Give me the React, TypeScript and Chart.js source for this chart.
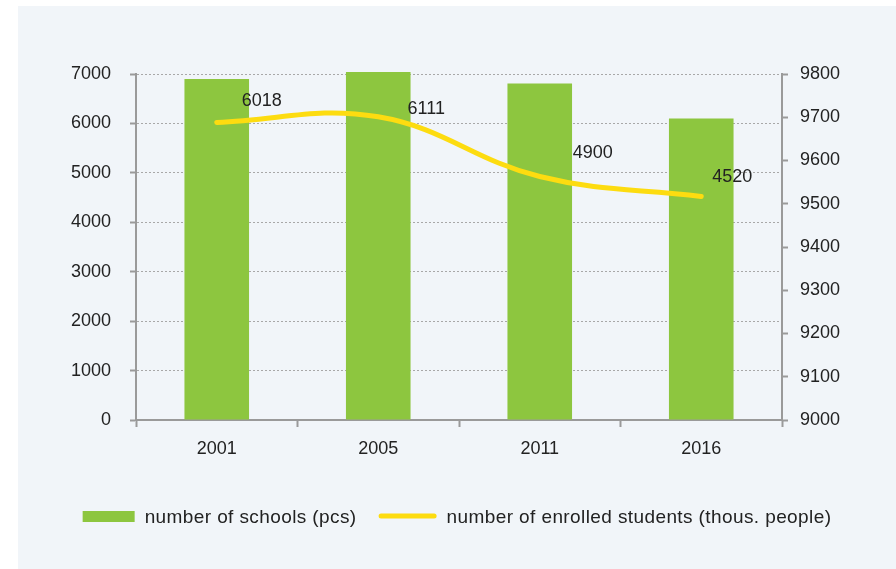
import React, { useEffect, useRef } from "react";
import { Chart, registerables } from "chart.js";

Chart.register(...registerables);

const years = ["2001", "2005", "2011", "2016"];
const schools = [6900, 7040, 6810, 6100];
const students = [9688, 9701, 9563, 9517];
const studentLabels = ["6018", "6111", "4900", "4520"];
const labelOffsetX = [45, 48, 53, 31];
const labelOffsetY = [-21, -8, -23, -19];
const leftTicks = { min: 0, max: 7000, step: 1000 };
const rightTicks = { min: 9000, max: 9800, step: 100 };
const legendLabels = ["number of schools (pcs)", "number of enrolled students (thous. people)"];

const GREEN = "#8dc63f";
const YELLOW = "#fddc10";
const AXIS = "#9a9a9a";
const TEXT = "#222222";
const FONT = "'Liberation Sans', Arial, sans-serif";

const panelPlugin = {
  id: "panel",
  beforeDraw(chart: any) {
    const { ctx, width, height } = chart;
    ctx.save();
    ctx.fillStyle = "#f1f5f9";
    ctx.fillRect(18, 6, width - 18, height - 6);
    ctx.restore();
  },
};

const labelsPlugin = {
  id: "valueLabels",
  afterDatasetsDraw(chart: any) {
    const { ctx } = chart;
    const meta = chart.getDatasetMeta(1);
    ctx.save();
    ctx.font = `18px ${FONT}`;
    ctx.fillStyle = TEXT;
    ctx.textAlign = "center";
    ctx.textBaseline = "middle";
    meta.data.forEach((pt: any, i: number) => {
      ctx.fillText(studentLabels[i], pt.x + labelOffsetX[i], pt.y + labelOffsetY[i]);
    });
    ctx.restore();
  },
};

const legendPlugin = {
  id: "customLegend",
  afterDraw(chart: any) {
    const { ctx, width } = chart;
    ctx.save();
    ctx.font = `19px ${FONT}`;
    try {
      (ctx as any).letterSpacing = "0.4px";
    } catch (e) {}
    const w1 = ctx.measureText(legendLabels[0]).width;
    const w2 = ctx.measureText(legendLabels[1]).width;
    const boxW = 52;
    const lineW = 58;
    const gap = 10;
    const itemGap = 22;
    const total = boxW + gap + w1 + itemGap + lineW + gap + w2;
    const centerX = (18 + width) / 2;
    let x = centerX - total / 2;
    const y = 517;
    ctx.fillStyle = GREEN;
    ctx.fillRect(x, y - 6, boxW, 11);
    x += boxW + gap;
    ctx.fillStyle = TEXT;
    ctx.textAlign = "left";
    ctx.textBaseline = "middle";
    ctx.fillText(legendLabels[0], x, y + 1);
    x += w1 + itemGap;
    ctx.strokeStyle = YELLOW;
    ctx.lineWidth = 5;
    ctx.lineCap = "round";
    ctx.beginPath();
    ctx.moveTo(x + 2.5, y - 1);
    ctx.lineTo(x + lineW - 2.5, y - 1);
    ctx.stroke();
    x += lineW + gap;
    ctx.fillText(legendLabels[1], x, y + 1);
    ctx.restore();
  },
};

const plain = (v: any) => String(v);

export default function App() {
  const ref = useRef<HTMLCanvasElement>(null);
  useEffect(() => {
    if (!ref.current) return;
    const tickFont = { family: FONT, size: 18 };
    const chart = new Chart(ref.current, {
      type: "bar",
      data: {
        labels: years,
        datasets: [
          {
            type: "bar",
            label: legendLabels[0],
            data: schools,
            backgroundColor: GREEN,
            borderWidth: 0,
            barPercentage: 0.4,
            categoryPercentage: 1,
            yAxisID: "y",
            order: 2,
            clip: false,
          },
          {
            type: "line",
            label: legendLabels[1],
            data: students,
            borderColor: YELLOW,
            backgroundColor: YELLOW,
            borderWidth: 5,
            borderCapStyle: "round",
            pointRadius: 0,
            tension: 0.4,
            fill: false,
            yAxisID: "y1",
            order: 1,
            clip: false,
          },
        ],
      } as any,
      options: {
        animation: false,
        responsive: false,
        layout: { padding: { top: 74, bottom: 99, left: 0, right: 0 } },
        plugins: { legend: { display: false }, tooltip: { enabled: false } },
        scales: {
          x: {
            offset: true,
            grid: {
              offset: true,
              drawOnChartArea: false,
              drawTicks: true,
              tickLength: 7,
              tickColor: AXIS,
              tickWidth: 2,
            },
            border: { color: AXIS, width: 2 },
            ticks: { font: tickFont, color: TEXT, padding: 11 },
            afterFit: (s: any) => {
              s.height = 50;
            },
          },
          y: {
            position: "left",
            min: leftTicks.min,
            max: leftTicks.max,
            ticks: { stepSize: leftTicks.step, font: tickFont, color: TEXT, padding: 19, callback: plain },
            grid: {
              color: "#a8a8a8",
              lineWidth: 1,
              tickLength: 6,
              tickColor: AXIS,
              tickWidth: 2,
            },
            border: { color: AXIS, width: 2, dash: [2, 2] },
            afterFit: (s: any) => {
              s.width = 136;
            },
          },
          y1: {
            position: "right",
            min: rightTicks.min,
            max: rightTicks.max,
            ticks: { stepSize: rightTicks.step, font: tickFont, color: TEXT, padding: 12, callback: plain },
            grid: {
              drawOnChartArea: false,
              tickLength: 6,
              tickColor: AXIS,
              tickWidth: 2,
            },
            border: { color: AXIS, width: 2 },
            afterFit: (s: any) => {
              s.width = 114;
            },
          },
        },
      } as any,
      plugins: [panelPlugin, labelsPlugin, legendPlugin],
    });
    return () => chart.destroy();
  }, []);
  return (
    <div style={{ position: "absolute", left: 0, top: 0, width: 896, height: 569, background: "#ffffff" }}>
      <canvas ref={ref} width={896} height={569} style={{ display: "block" }} />
    </div>
  );
}
